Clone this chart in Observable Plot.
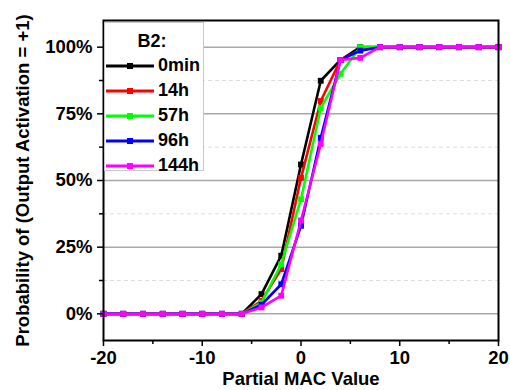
<!DOCTYPE html>
<html>
<head>
<meta charset="utf-8">
<script src="https://cdn.jsdelivr.net/npm/d3@7"></script>
<script src="https://cdn.jsdelivr.net/npm/@observablehq/plot@0.6"></script>
<style>
  html, body { margin: 0; padding: 0; background: #fff; }
  #chart { position: relative; width: 510px; height: 390px; font-family: Arial, "Liberation Sans", sans-serif; }
  #legend {
    position: absolute; left: 104px; top: 22px; width: 100px; height: 149px;
    box-sizing: border-box; background: #fff; border: 1px solid #c8c8c8;
    font-weight: bold; font-size: 18px; color: #000;
  }
  #legend .title { text-align: center; margin-top: 6px; height: 24px; line-height: 24px; padding-right: 4px; }
  #legend .row { display: flex; align-items: center; height: 25px; }
  #legend .row svg { margin-left: 1px; margin-right: 4px; }
</style>
</head>
<body>
<div id="chart"></div>
<script>
// Partial MAC value sweep
const macValues = [-20, -18, -16, -14, -12, -10, -8, -6, -4, -2, 0, 2, 4, 6, 8, 10, 12, 14, 16, 18, 20];

// Probability (%) that the output activation is +1, per retention time
const p0min = [0, 0, 0, 0, 0, 0, 0, 0, 7.4, 21.8, 56.0, 87.4, 95.2, 100, 100, 100, 100, 100, 100, 100, 100];
const p14h  = [0, 0, 0, 0, 0, 0, 0, 0, 4.9, 16.8, 51.0, 79.8, 95.2, 99.0, 100, 100, 100, 100, 100, 100, 100];
const p57h  = [0, 0, 0, 0, 0, 0, 0, 0, 4.2, 18.6, 43.0, 77.2, 90.0, 100, 100, 100, 100, 100, 100, 100, 100];
const p96h  = [0, 0, 0, 0, 0, 0, 0, 0, 3.4, 11.1, 33.0, 66.0, 95.2, 98.7, 100, 100, 100, 100, 100, 100, 100];
const p144h = [0, 0, 0, 0, 0, 0, 0, 0, 2.4, 6.8, 35.0, 63.7, 95.2, 96.0, 100, 100, 100, 100, 100, 100, 100];

const seriesNames = ["0min", "14h", "57h", "96h", "144h"];
const seriesValues = [p0min, p14h, p57h, p96h, p144h];
const seriesColors = ["#000000", "#ff0000", "#00ff00", "#0000ff", "#ff00ff"];

const yMajorTicks = [0, 25, 50, 75, 100];
const yMinorTicks = [12.5, 37.5, 62.5, 87.5];
const xMajorTicks = [-20, -10, 0, 10, 20];
const xMinorTicks = [-15, -5, 5, 15];

const series = seriesNames.map((name, i) => ({
  name,
  color: seriesColors[i],
  data: macValues.map((x, j) => ({x, y: seriesValues[i][j]}))
}));

const seriesMarks = series.flatMap(s => [
  Plot.line(s.data, {x: "x", y: "y", stroke: s.color, strokeWidth: 2.6}),
  Plot.dot(s.data, {x: "x", y: "y", symbol: "square", r: 3.3, fill: s.color, stroke: "none"})
]);

const plot = Plot.plot({
  width: 510,
  height: 390,
  marginLeft: 103,
  marginRight: 12,
  marginTop: 20,
  marginBottom: 50,
  style: {fontFamily: "Arial, 'Liberation Sans', sans-serif", fontSize: "18.5px", fontWeight: "bold", color: "#000", background: "#fff"},
  x: {domain: [-20, 20]},
  y: {domain: [-10, 110]},
  marks: [
    Plot.ruleY(yMinorTicks, {stroke: "#dcdcdc", strokeWidth: 1, strokeDasharray: "4,3"}),
    Plot.ruleY(yMajorTicks, {stroke: "#a8a8a8", strokeWidth: 1.5}),
    ...seriesMarks,
    Plot.axisY(yMinorTicks, {tickSize: 4, text: null, strokeWidth: 1.5, label: null}),
    Plot.axisY(yMajorTicks, {
      tickSize: 6, tickPadding: 5, strokeWidth: 1.5,
      tickFormat: d => d + "%",
      label: "Probability of (Output Activation = +1)",
      labelAnchor: "center", labelArrow: "none", labelOffset: 88
    }),
    Plot.axisX(xMinorTicks, {tickSize: 4, text: null, strokeWidth: 1.5, label: null}),
    Plot.axisX(xMajorTicks, {
      tickSize: 6, tickPadding: 4, strokeWidth: 1.5,
      tickFormat: d => String(d),
      label: "Partial MAC Value",
      labelAnchor: "center", labelArrow: "none", labelOffset: 44
    }),
    Plot.frame({stroke: "#000", strokeWidth: 2})
  ]
});

const chart = document.getElementById("chart");
chart.appendChild(plot);

// Legend box in the upper-left corner of the frame
const legend = document.createElement("div");
legend.id = "legend";
const title = document.createElement("div");
title.className = "title";
title.textContent = "B2:";
legend.appendChild(title);
for (const s of series) {
  const row = document.createElement("div");
  row.className = "row";
  row.innerHTML =
    `<svg width="48" height="10"><line x1="0" y1="5" x2="48" y2="5" stroke="${s.color}" stroke-width="3"/>` +
    `<rect x="21" y="2" width="6" height="6" fill="${s.color}"/></svg><span>${s.name}</span>`;
  legend.appendChild(row);
}
chart.appendChild(legend);
</script>
</body>
</html>
